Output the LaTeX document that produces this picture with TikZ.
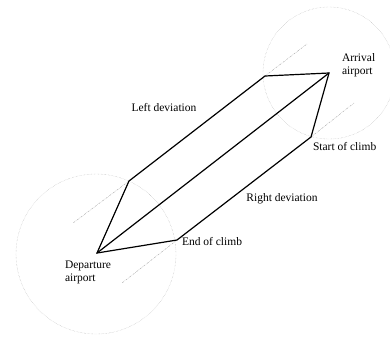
\documentclass[tikz,border=0pt]{standalone}
\usepackage{fontspec}
\setmainfont{Liberation Serif}
\begin{document}
\begin{tikzpicture}[x=1pt,y=-1pt,every node/.style={inner sep=0pt, outer sep=0pt, font=\fontsize{11.5}{12.5}\selectfont},
  track/.style={black,line width=1.2pt,line join=miter},
  guide/.style={gray!70,line width=0.4pt,dash pattern=on 2pt off 1pt on 0.5pt off 1pt},
  zone/.style={gray!60,line width=0.4pt,densely dotted}]
\useasboundingbox (0,0) rectangle (390,338);
\coordinate (dep) at (97,253);
\coordinate (arr) at (329,73);
\coordinate (lc1) at (129,181);
\coordinate (lc2) at (265,76);
\coordinate (rc1) at (177,240);
\coordinate (rc2) at (311,137);
\coordinate (le1) at (73,223);
\coordinate (le2) at (307,44);
\coordinate (re1) at (122,283);
\coordinate (re2) at (354,103);
\draw[zone] (96,254) circle[radius=80];
\draw[zone] (329,73) circle[radius=66];
\draw[guide] (lc1) -- (le1);
\draw[guide] (rc1) -- (re1);
\draw[guide] (lc2) -- (le2);
\draw[guide] (rc2) -- (re2);
\draw[track] (dep) -- (lc1) -- (lc2) -- (arr) -- (rc2) -- (rc1) -- cycle;
\draw[track] (dep) -- (arr);
\node (left) at (164,108) {Left deviation};
\node (right) at (282,199) {Right deviation};
\node[anchor=north west,align=left] (deplbl) at (65,261) {Departure\\airport};
\node[anchor=north west,align=left] (arrlbl) at (342,54) {Arrival\\airport};
\node[anchor=west] (eoc) at (182,241) {End of climb};
\node[anchor=west] (soc) at (313,147) {Start of climb};
\end{tikzpicture}
\end{document}
